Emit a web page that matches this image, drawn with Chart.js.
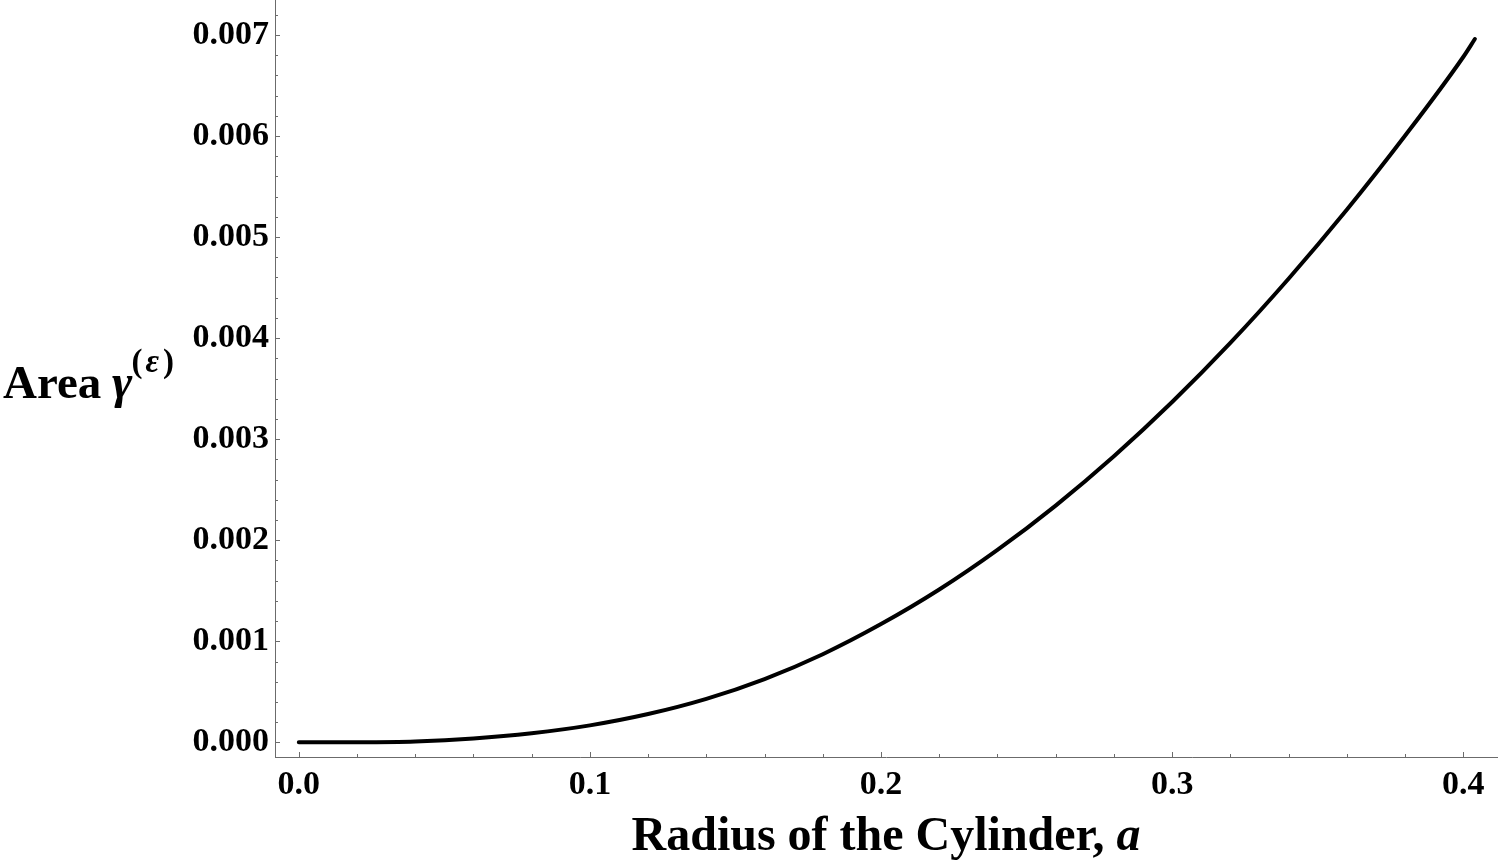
<!DOCTYPE html>
<html>
<head>
<meta charset="utf-8">
<script src="https://cdn.jsdelivr.net/npm/chart.js@4.4.1/dist/chart.umd.min.js"></script>
<style>
  html, body { margin: 0; padding: 0; background: #ffffff; }
  #wrap { position: relative; width: 1500px; height: 864px; }
</style>
</head>
<body>
<div id="wrap"><canvas id="c"></canvas></div>
<script>
// ---- data ----
const radiusA = [0, 0.02, 0.04, 0.06, 0.08, 0.10, 0.12, 0.14, 0.16, 0.18, 0.20, 0.22, 0.24, 0.26, 0.28, 0.30, 0.32, 0.34, 0.36, 0.38, 0.40, 0.404];
const areaGamma = [0, 0.000001, 0.000009, 0.000038, 0.000090, 0.000168, 0.000280, 0.000430, 0.000626, 0.000872, 0.001170, 0.001512, 0.001904, 0.002343, 0.002831, 0.003368, 0.003953, 0.004588, 0.005270, 0.006002, 0.006782, 0.006960];

// ---- ticks ----
const xMajorTicks = [0, 0.1, 0.2, 0.3, 0.4];
const xTickLabels = ['0.0', '0.1', '0.2', '0.3', '0.4'];
const xMinorTicks = [0.02, 0.04, 0.06, 0.08, 0.12, 0.14, 0.16, 0.18, 0.22, 0.24, 0.26, 0.28, 0.32, 0.34, 0.36, 0.38];
const yMajorTicks = [0, 0.001, 0.002, 0.003, 0.004, 0.005, 0.006, 0.007];
const yTickLabels = ['0.000', '0.001', '0.002', '0.003', '0.004', '0.005', '0.006', '0.007'];
const yMinorTicks = [0.0002, 0.0004, 0.0006, 0.0008, 0.0012, 0.0014, 0.0016, 0.0018, 0.0022, 0.0024, 0.0026, 0.0028,
  0.0032, 0.0034, 0.0036, 0.0038, 0.0042, 0.0044, 0.0046, 0.0048, 0.0052, 0.0054, 0.0056, 0.0058,
  0.0062, 0.0064, 0.0066, 0.0068, 0.0072];

const xTitle = 'Radius of the Cylinder, ';
const xTitleVar = 'a';
const yTitle = 'Area ';
const yTitleVar = 'γ';
const yTitleSup = ['(', 'ε', ')'];

const AXIS_COLOR = '#6b6b6b';
const SERIF = '"Liberation Serif", "Times New Roman", serif';

function near(a, b) { return Math.abs(a - b) < 1e-9; }

const inwardTicks = {
  id: 'inwardTicks',
  afterDraw(chart) {
    const ctx = chart.ctx;
    const xs = chart.scales.x, ys = chart.scales.y;
    const area = chart.chartArea;
    ctx.save();
    ctx.strokeStyle = AXIS_COLOR;
    ctx.lineWidth = 1;
    ctx.beginPath();
    xs.ticks.forEach(t => {
      const major = xMajorTicks.some(v => near(v, t.value));
      const px = Math.round(xs.getPixelForValue(t.value)) + 0.5;
      const len = major ? 5 : 3;
      ctx.moveTo(px, area.bottom);
      ctx.lineTo(px, area.bottom - len);
    });
    ys.ticks.forEach(t => {
      const major = yMajorTicks.some(v => near(v, t.value));
      const py = Math.round(ys.getPixelForValue(t.value)) + 0.5;
      const len = major ? 5 : 3;
      ctx.moveTo(area.left, py);
      ctx.lineTo(area.left + len, py);
    });
    ctx.stroke();

    // axis titles (mixed upright / italic text)
    ctx.fillStyle = '#000';
    ctx.textBaseline = 'alphabetic';
    ctx.textAlign = 'left';
    ctx.font = 'bold 48px ' + SERIF;
    const w1 = ctx.measureText(xTitle).width;
    ctx.font = 'italic bold 48px ' + SERIF;
    const w2 = ctx.measureText(xTitleVar).width;
    const cx = (area.left + area.right) / 2;
    const x0 = cx - (w1 + w2) / 2;
    ctx.font = 'bold 48px ' + SERIF;
    ctx.fillText(xTitle, x0, 850);
    ctx.font = 'italic bold 48px ' + SERIF;
    ctx.fillText(xTitleVar, x0 + w1, 850);

    // y title, horizontal, left of the axis
    const by = 398;
    let x = 3;
    ctx.font = 'bold 47px ' + SERIF;
    ctx.fillText(yTitle, x, by);
    x += ctx.measureText(yTitle).width - 1;
    ctx.font = 'italic bold 49px ' + SERIF;
    ctx.fillText(yTitleVar, x, by);
    x += ctx.measureText(yTitleVar).width - 1;
    const sy = by - 26;
    ctx.font = 'bold 33px ' + SERIF;
    ctx.fillText(yTitleSup[0], x, sy);
    x += ctx.measureText(yTitleSup[0]).width + 3;
    ctx.font = 'italic bold 33px ' + SERIF;
    ctx.fillText(yTitleSup[1], x, sy);
    x += ctx.measureText(yTitleSup[1]).width + 4;
    ctx.font = 'bold 33px ' + SERIF;
    ctx.fillText(yTitleSup[2], x, sy);
    ctx.restore();
  }
};

const points = radiusA.map((a, i) => ({ x: a, y: areaGamma[i] }));

new Chart(document.getElementById('c'), {
  type: 'line',
  data: {
    datasets: [{
      data: points,
      borderColor: '#000',
      borderWidth: 4,
      pointRadius: 0,
      fill: false,
      cubicInterpolationMode: 'monotone',
      borderCapStyle: 'round',
      borderJoinStyle: 'round'
    }]
  },
  options: {
    responsive: true,
    maintainAspectRatio: false,
    animation: false,
    events: [],
    layout: { padding: { top: 0, right: 3, left: 0, bottom: 0 } },
    plugins: { legend: { display: false }, tooltip: { enabled: false } },
    scales: {
      x: {
        type: 'linear',
        min: -0.00818,
        max: 0.4116,
        grid: { display: false, drawTicks: false },
        border: { display: true, color: AXIS_COLOR, width: 1 },
        afterBuildTicks(scale) {
          scale.ticks = xMajorTicks.concat(xMinorTicks).map(v => ({ value: v }));
        },
        afterFit(scale) {
          scale.height = 107;
          scale.paddingLeft = 0; scale.paddingRight = 0;
        },
        ticks: {
          autoSkip: false,
          maxRotation: 0,
          padding: 8,
          color: '#000',
          font: { family: SERIF, weight: 'bold', size: 34 },
          callback(value) {
            const i = xMajorTicks.findIndex(v => near(v, value));
            return i >= 0 ? xTickLabels[i] : '';
          }
        }
      },
      y: {
        type: 'linear',
        min: -0.000145,
        max: 0.007346,
        grid: { display: false, drawTicks: false },
        border: { display: true, color: AXIS_COLOR, width: 1 },
        afterBuildTicks(scale) {
          scale.ticks = yMajorTicks.concat(yMinorTicks).map(v => ({ value: v }));
        },
        afterFit(scale) {
          scale.width = 275;
          scale.paddingTop = 0; scale.paddingBottom = 0;
        },
        ticks: {
          autoSkip: false,
          padding: 6,
          color: '#000',
          font: { family: SERIF, weight: 'bold', size: 34 },
          callback(value) {
            const i = yMajorTicks.findIndex(v => near(v, value));
            return i >= 0 ? yTickLabels[i] : '';
          }
        }
      }
    }
  },
  plugins: [inwardTicks]
});
</script>
</body>
</html>
